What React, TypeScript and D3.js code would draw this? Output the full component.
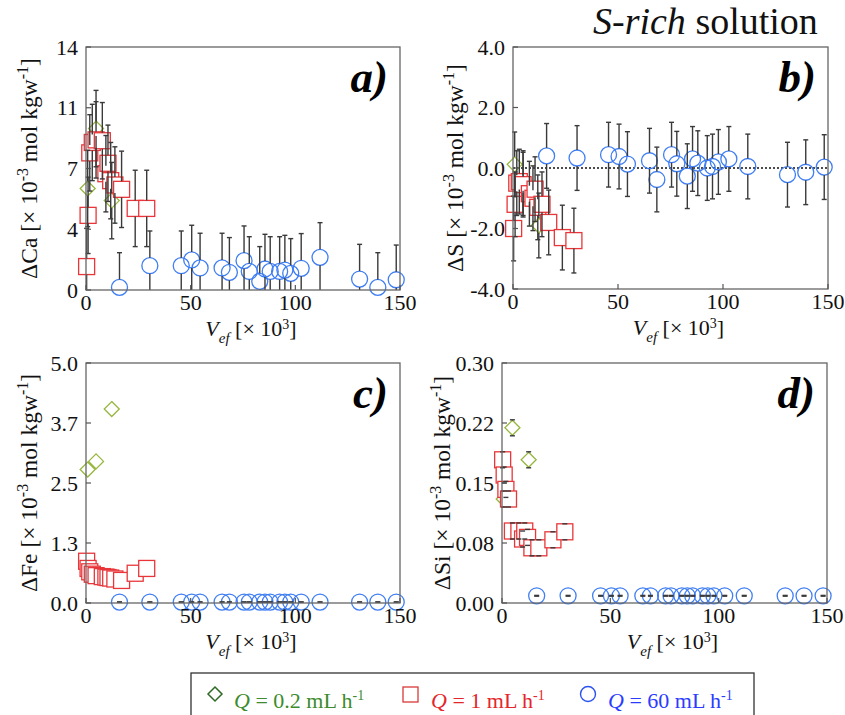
import React from "react";
import * as d3 from "d3";

// V_ef [x 10^3] for each flow rate
const vDiamond = [0.8, 4.8, 12.3];
const vSquare = [0.3, 1.0, 1.8, 3.0, 4.8, 7.8, 9.5, 10.5, 11.8, 13.8, 17.0, 23.5, 29.0];
const vCircle = [16, 30.5, 45.5, 50.5, 54.5, 65, 68.5, 75.5, 78, 83, 85.5, 88, 92.5, 95, 97.8, 102.8, 111.8, 130.7, 139.4, 148.2];

// a) Ca
const caDiamond = [5.85, 9.3, 5.15];
const caSquare = [1.35, 4.3, 7.9, 8.5, 8.65, 8.6, 6.7, 7.3, 6.3, 6.05, 5.8, 4.7, 4.7];
const caCircle = [0.15, 1.4, 1.4, 1.73, 1.27, 1.27, 1.02, 1.69, 1.07, 0.5, 1.21, 1.07, 1.07, 1.15, 0.96, 1.25, 1.88, 0.63, 0.15, 0.59];

// b) S
const sDiamond = [0.12, -0.5, -1.9];
const sSquare = [-2.0, -1.2, -0.5, -0.45, -0.55, -0.85, -1.0, -0.7, -1.3, -1.2, -1.8, -2.3, -2.4];
const sCircle = [0.4, 0.33, 0.44, 0.38, 0.13, 0.24, -0.38, 0.44, 0.14, -0.27, 0.3, 0.16, 0.0, 0.05, 0.2, 0.3, 0.05, -0.22, -0.14, 0.03];

// c) Fe
const feDiamond = [2.78, 2.95, 4.04];
const feSquare = [0.87, 0.72, 0.65, 0.6, 0.57, 0.55, 0.54, 0.53, 0.52, 0.5, 0.47, 0.62, 0.72];
const feCircle = [0.02, 0.02, 0.02, 0.02, 0.02, 0.02, 0.02, 0.02, 0.02, 0.02, 0.02, 0.02, 0.02, 0.02, 0.02, 0.02, 0.02, 0.02, 0.02, 0.02];

// d) Si
const siDiamond = [0.13, 0.219, 0.179];
const siSquare = [0.179, 0.16, 0.142, 0.13, 0.09, 0.09, 0.08, 0.09, 0.082, 0.069, 0.069, 0.079, 0.089];
const siCircle = [0.009, 0.009, 0.009, 0.009, 0.009, 0.009, 0.009, 0.009, 0.009, 0.009, 0.009, 0.009, 0.009, 0.009, 0.009, 0.009, 0.009, 0.009, 0.009, 0.009];

// error bar half widths (diamond, square, circle)
const caErr = [2.2, 2.2, 2.0];
const sErr = [1.07, 1.07, 1.07];
const feErr = [null, null, 0.003];
const siErr = [0.01, 0.01, 0.0005];

const xTicks = [0, 50, 100, 150];
const caTicks = [0, 3.5, 7, 10.5, 14];
const caTickLabels = ["0", "4", "7", "11", "14"];
const sTicks = [-4, -2, 0, 2, 4];
const sTickLabels = ["-4.0", "-2.0", "0.0", "2.0", "4.0"];
const feTicks = [0, 1.25, 2.5, 3.75, 5];
const feTickLabels = ["0.0", "1.3", "2.5", "3.7", "5.0"];
const siTicks = [0, 0.075, 0.15, 0.225, 0.3];
const siTickLabels = ["0.00", "0.08", "0.15", "0.22", "0.30"];

const FONT = "Liberation Serif, Times New Roman, DejaVu Serif, serif";
const GREEN = "#96b63e";
const RED = "#e8363a";
const BLUE = "#3f7ef3";
const BAR = "#3a3a3a";

function Panel(props) {
  const { id, box, yTicks, yTickLabels, element, letter, vals, errs, zeroLine, yLabelX } = props;
  const x = d3.scaleLinear().domain([0, 150]).range([box.x0, box.x1]);
  const y = d3.scaleLinear().domain([yTicks[0], yTicks[yTicks.length - 1]]).range([box.y1, box.y0]);
  const series = [
    { v: vDiamond, val: vals[0], err: errs[0], r: 7.5 },
    { v: vSquare, val: vals[1], err: errs[1], r: 8 },
    { v: vCircle, val: vals[2], err: errs[2], r: 8 },
  ];
  // error bars start at the marker edge, caps at the ends
  const bars = [];
  series.forEach((s, si) => {
    if (s.err == null) return;
    s.val.forEach((d, i) => {
      const cx = x(s.v[i]);
      const cy = y(d);
      const top = y(d + s.err);
      const bot = y(d - s.err);
      bars.push(
        <g key={si + "-" + i}>
          {top < cy - s.r && <line x1={cx} x2={cx} y1={cy - s.r} y2={top} />}
          {bot > cy + s.r && <line x1={cx} x2={cx} y1={cy + s.r} y2={bot} />}
          <line x1={cx - 2.5} x2={cx + 2.5} y1={top} y2={top} />
          <line x1={cx - 2.5} x2={cx + 2.5} y1={bot} y2={bot} />
        </g>
      );
    });
  });
  const cyMid = (box.y0 + box.y1) / 2;
  const cxMid = (box.x0 + box.x1) / 2 + 8;
  return (
    <g fontFamily={FONT}>
      <defs>
        <clipPath id={"clip-" + id}>
          <rect x={box.x0 - 20} y={box.y0} width={box.x1 - box.x0 + 40} height={box.y1 - box.y0} />
        </clipPath>
      </defs>
      {zeroLine && (
        <line x1={box.x0} x2={box.x1} y1={y(0)} y2={y(0)} stroke="#111" strokeWidth={1.3} strokeDasharray="2,2" />
      )}
      {series[0].val.map((d, i) => {
        const cx = x(series[0].v[i]);
        const cy = y(d);
        return (
          <path key={"dm" + i} d={`M${cx},${cy - 7.5}L${cx + 7.5},${cy}L${cx},${cy + 7.5}L${cx - 7.5},${cy}Z`}
            fill="none" stroke={GREEN} strokeWidth={1.3} />
        );
      })}
      {series[1].val.map((d, i) => (
        <rect key={"sq" + i} x={x(series[1].v[i]) - 8} y={y(d) - 8} width={16} height={16}
          fill="#fff" stroke={RED} strokeWidth={1.3} />
      ))}
      {series[2].val.map((d, i) => (
        <circle key={"ci" + i} cx={x(series[2].v[i])} cy={y(d)} r={8} fill="none" stroke={BLUE} strokeWidth={1.3} />
      ))}
      <g stroke={BAR} strokeWidth={1.4} clipPath={`url(#clip-${id})`}>{bars}</g>
      <rect x={box.x0} y={box.y0} width={box.x1 - box.x0} height={box.y1 - box.y0} fill="none" stroke="#666" strokeWidth={1.3} />
      <g stroke="#555" strokeWidth={1.2}>
        {yTicks.map((t) => (
          <line key={"yt" + t} x1={box.x0} x2={box.x0 + 5} y1={y(t)} y2={y(t)} />
        ))}
        {xTicks.map((t) => (
          <line key={"xt" + t} x1={x(t)} x2={x(t)} y1={box.y1} y2={box.y1 - 5} />
        ))}
      </g>
      <g fontSize={22} fill="#111">
        {yTicks.map((t, i) => (
          <text key={"yl" + t} x={box.x0 - 8} y={y(t)} dy="0.35em" textAnchor="end">{yTickLabels[i]}</text>
        ))}
        {xTicks.map((t) => (
          <text key={"xl" + t} x={x(t)} y={box.y1 + 20} textAnchor="middle">{t}</text>
        ))}
      </g>
      <text transform={`translate(${yLabelX},${cyMid}) rotate(-90)`} textAnchor="middle" fontSize={23.5} fill="#111">
        {"Δ" + element + " [× 10"}
        <tspan dy={-9} fontSize={16}>-3</tspan>
        <tspan dy={9}> mol kgw</tspan>
        <tspan dy={-9} fontSize={16}>-1</tspan>
        <tspan dy={9}>]</tspan>
      </text>
      <text x={cxMid} y={box.y1 + 46} textAnchor="middle" fontSize={22} fill="#111">
        <tspan fontStyle="italic">V</tspan>
        <tspan fontStyle="italic" fontSize={15} dy={7}>ef</tspan>
        <tspan dy={-7}> [× 10</tspan>
        <tspan dy={-7} fontSize={14}>3</tspan>
        <tspan dy={7}>]</tspan>
      </text>
      <text x={box.x1 - 12} y={box.y0 + 45} textAnchor="end" fontSize={45} fontWeight="bold" fontStyle="italic" fill="#000">
        {letter}
      </text>
    </g>
  );
}

export default function App() {
  return (
    <svg width={845} height={715} style={{ position: "absolute", left: 0, top: 0, background: "#fff" }}>
      <rect width={845} height={715} fill="#fff" />
      <text x={593} y={34} fontFamily={FONT} fontSize={38} fill="#111">
        <tspan fontStyle="italic">S-rich</tspan> solution
      </text>
      <Panel id="a" box={{ x0: 86, x1: 400, y0: 47, y1: 290 }} yTicks={caTicks} yTickLabels={caTickLabels}
        element="Ca" letter="a)" vals={[caDiamond, caSquare, caCircle]} errs={caErr} yLabelX={37} />
      <Panel id="b" box={{ x0: 513, x1: 828, y0: 47, y1: 289 }} yTicks={sTicks} yTickLabels={sTickLabels}
        element="S" letter="b)" vals={[sDiamond, sSquare, sCircle]} errs={sErr} zeroLine yLabelX={463} />
      <Panel id="c" box={{ x0: 86, x1: 400, y0: 363, y1: 603 }} yTicks={feTicks} yTickLabels={feTickLabels}
        element="Fe" letter="c)" vals={[feDiamond, feSquare, feCircle]} errs={feErr} yLabelX={37} />
      <Panel id="d" box={{ x0: 502, x1: 827, y0: 363, y1: 603 }} yTicks={siTicks} yTickLabels={siTickLabels}
        element="Si" letter="d)" vals={[siDiamond, siSquare, siCircle]} errs={siErr} yLabelX={450} />
      <g fontFamily={FONT} fontSize={22}>
        <rect x={191} y={673} width={563} height={60} fill="none" stroke="#333" strokeWidth={1.3} />
        <path d="M215,687L222,694L215,701L208,694Z" fill="none" stroke="#2f6a25" strokeWidth={1.5} />
        <text x={234} y={708} fill="#3d8b2d">
          <tspan fontStyle="italic">Q</tspan> = 0.2 mL h<tspan dy={-8} fontSize={14}>-1</tspan>
        </text>
        <rect x={403} y={687} width={15} height={15} fill="none" stroke="#d93a3a" strokeWidth={1.3} />
        <text x={431} y={708} fill="#e3262b">
          <tspan fontStyle="italic">Q</tspan> = 1 mL h<tspan dy={-8} fontSize={14}>-1</tspan>
        </text>
        <circle cx={588} cy={694} r={7.5} fill="none" stroke="#2a52f0" strokeWidth={1.4} />
        <text x={608} y={708} fill="#2a3cff">
          <tspan fontStyle="italic">Q</tspan> = 60 mL h<tspan dy={-8} fontSize={14}>-1</tspan>
        </text>
      </g>
    </svg>
  );
}
